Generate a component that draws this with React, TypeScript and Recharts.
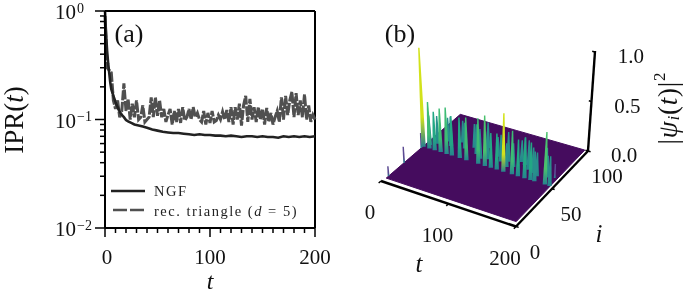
import React from "react";
import { Area, ComposedChart, Line, LineChart, ReferenceLine, Scatter, XAxis, YAxis } from "recharts";

const serif = "'Liberation Serif', serif";

// panel (a): IPR(t)
const ngfTimes = [0, 1, 2, 3, 4, 5, 6, 8, 10, 12, 14, 16, 18, 20, 22, 25, 28, 32, 36, 40, 45, 50, 55, 60, 65, 70, 75, 80, 85, 90, 95, 100, 105, 110, 115, 120, 125, 130, 135, 140, 145, 150, 155, 160, 165, 170, 175, 180, 185, 190, 195, 200];
const ngfValues = [1, 0.62, 0.43, 0.33, 0.27, 0.22, 0.19, 0.165, 0.145, 0.13, 0.118, 0.11, 0.105, 0.099, 0.096, 0.093, 0.09, 0.088, 0.086, 0.084, 0.081, 0.079, 0.077, 0.076, 0.075, 0.075, 0.074, 0.073, 0.072, 0.073, 0.072, 0.072, 0.071, 0.071, 0.07, 0.071, 0.07, 0.069, 0.07, 0.07, 0.069, 0.07, 0.069, 0.069, 0.068, 0.07, 0.069, 0.07, 0.069, 0.07, 0.069, 0.07];
const triangleValues = [
  0.9, 0.3, 0.285, 0.27, 0.15, 0.125, 0.15, 0.105, 0.12, 0.215, 0.12, 0.155, 0.1, 0.14, 0.105, 0.15, 0.1, 0.105, 0.135, 0.095,
  0.1, 0.105, 0.16, 0.105, 0.16, 0.108, 0.15, 0.105, 0.125, 0.095, 0.11, 0.125, 0.09, 0.12, 0.095, 0.125, 0.093, 0.13, 0.098, 0.105,
  0.125, 0.1, 0.13, 0.105, 0.115, 0.1, 0.095, 0.12, 0.09, 0.115, 0.093, 0.12, 0.095, 0.098, 0.11, 0.1, 0.118, 0.1, 0.122, 0.095,
  0.13, 0.09, 0.13, 0.1, 0.14, 0.088, 0.135, 0.165, 0.095, 0.155, 0.1, 0.13, 0.095, 0.13, 0.1, 0.125, 0.09, 0.128, 0.095, 0.115,
  0.09, 0.105, 0.12, 0.095, 0.16, 0.1, 0.165, 0.11, 0.15, 0.18, 0.105, 0.175, 0.11, 0.15, 0.105, 0.17, 0.1, 0.135, 0.095, 0.11, 0.1,
];
const ngfRows = ngfTimes.map((t, n) => ({ t, value: ngfValues[n] }));
const triangleRows = triangleValues.map((value, n) => ({ t: n * 2, value }));

const xTicks = [0, 10, 20, 30, 40, 50, 60, 70, 80, 90, 100, 110, 120, 130, 140, 150, 160, 170, 180, 190, 200];
const yTicks = [0.01, 0.02, 0.03, 0.04, 0.05, 0.06, 0.07, 0.08, 0.09, 0.1, 0.2, 0.3, 0.4, 0.5, 0.6, 0.7, 0.8, 0.9, 1];
const decadeLabels: Record<string, string> = { "1": "0", "0.1": "−1", "0.01": "−2" };

// panel (b): spikes of |psi_i(t)|^2
const frontT = [3, 12, 20, 29, 38, 46, 58, 68, 86, 96, 105, 114, 124, 137, 146, 156, 165, 171, 187, 194];
const frontZ = [1, 0.47, 0.39, 0.44, 0.47, 0.4, 0.41, 0.43, 0.46, 0.51, 0.35, 0.365, 0.59, 0.44, 0.37, 0.41, 0.38, 0.3, 0.53, 0.3];
const backT = [8, 15, 24, 33, 42, 52, 62, 72, 78, 82, 91, 100, 109, 118, 122, 130, 134, 141, 151, 160, 168, 176, 182, 191];
const backI = [56, 60, 66, 62, 70, 64, 68, 62, 72, 58, 60, 66, 62, 64, 58, 60, 68, 66, 62, 60, 58, 64, 60, 62];
const backZ = [0.3, 0.28, 0.24, 0.3, 0.22, 0.26, 0.24, 0.3, 0.26, 0.3, 0.28, 0.2, 0.27, 0.3, 0.24, 0.24, 0.22, 0.28, 0.3, 0.26, 0.24, 0.26, 0.22, 0.14];
const edgeI = [8, 28, 50];
const edgeZ = [0.1, 0.16, 0.15];

const tLabels = [0, 100, 200];
const iLabels = [0, 50, 100];
const zLabels = [0, 0.5, 1];

// corners of the t-i floor in page pixels (t0i0, t200i0, t200i100, t0i100)
const project = (t: number, i: number, z: number) => {
  const u = t / 200;
  const v = i / 100;
  const x0 = (1 - v) * ((1 - u) * 381 + u * 516) + v * ((1 - u) * 459 + u * 588);
  const y0 = (1 - v) * ((1 - u) * 181 + u * 226.5) + v * ((1 - u) * 114 + u * 151);
  return { px: x0 + (x0 - 490) * 0.071 * z, py: y0 - 99 * z };
};

const spikeColor = (z: number) => {
  if (z < 0.2) return "#5b4a92";
  if (z < 0.34) return "#28908c";
  if (z < 0.42) return "#22a884";
  if (z < 0.48) return "#3dbc74";
  if (z < 0.56) return "#4ac16d";
  return "#d2e21b";
};

const spike = (t: number, i: number, z: number) => {
  const top = project(t, i, z);
  const base = project(t, i, 0);
  return { ...top, dx: base.px - top.px, dy: base.py - top.py, color: spikeColor(z), halfBase: z < 0.2 ? 0.9 : 2.2, id: `s${t}-${i}` };
};

const backSpikes = backT.map((t, n) => spike(t, backI[n], backZ[n]));
const frontSpikes = frontT.map((t, n) => spike(t, 52, frontZ[n]));
const edgeSpikes = edgeI.map((i, n) => spike(2, i, edgeZ[n]));

const SpikeShape = (props: any) => {
  const { cx, cy, payload } = props;
  const { dx, dy, color, halfBase, id } = payload;
  const points = `${cx - 0.7},${cy} ${cx + 0.7},${cy} ${cx + dx + halfBase},${cy + dy} ${cx + dx - halfBase},${cy + dy}`;
  return (
    <g>
      <defs>
        <linearGradient id={id} x1="0" y1="0" x2="0" y2="1">
          <stop offset="0%" stopColor={color} />
          <stop offset="70%" stopColor={color} />
          <stop offset="100%" stopColor="#26828e" />
        </linearGradient>
      </defs>
      <polygon points={points} fill={`url(#${id})`} />
    </g>
  );
};

const NoMark = () => null;

// floor polygon as a range area, lower and upper bound at every corner
const floorA = project(2, 5, 0);
const floorB = project(195, 5, 0);
const floorC = project(195, 100, 0);
const floorD = project(2, 100, 0);
const onEdge = (p: any, q: any, x: number) => p.py + ((q.py - p.py) * (x - p.px)) / (q.px - p.px);
const upperEdge = (x: number) => (x < floorD.px ? onEdge(floorA, floorD, x) : onEdge(floorD, floorC, x));
const lowerEdge = (x: number) => (x < floorB.px ? onEdge(floorA, floorB, x) : onEdge(floorB, floorC, x));
const floorRows = [floorA, floorD, floorB, floorC].map(({ px }) => ({ px, range: [upperEdge(px), lowerEdge(px)] }));

const tAxisLine = [project(0, 0, 0), project(200, 0, 0)];
const iAxisLine = [project(200, 0, 0), project(200, 100, 0)];
const zAxisLine = [project(200, 100, 0), project(200, 100, 1.01)];

const tickSegments = [
  ...tLabels.map((t) => [project(t, 0, 0), project(t, -3, 0)]),
  ...iLabels.map((i) => [project(200, i, 0), project(204, i, 0)]),
  ...zLabels.map((z) => [project(200, 100, z), project(196, 100, z)]),
];

const XTick = (props: any) => {
  const { x, y, payload } = props;
  const major = payload.value % 100 === 0;
  return (
    <g>
      <line x1={x} x2={x} y1={y} y2={y + (major ? 9 : 5)} stroke="#000" strokeWidth={1.5} />
      {major && (
        <text x={x + (payload.value === 0 ? 2 : 0)} y={y + 29} textAnchor="middle" dominantBaseline="central" fontSize={21} fontFamily={serif} fill="#111">
          {payload.value}
        </text>
      )}
    </g>
  );
};

const YTick = (props: any) => {
  const { x, y, payload } = props;
  const exponent = decadeLabels[String(payload.value)];
  const endX = payload.value === 1 ? x - 21 : x - 13;
  return (
    <g>
      <line x1={x - (exponent ? 10 : 5)} x2={x} y1={y} y2={y} stroke="#000" strokeWidth={1.5} />
      {exponent && (
        <text x={endX} y={y + 8} textAnchor="end" fontSize={21} fontFamily={serif} fill="#111">
          10
          <tspan dy={-6.5} fontSize={14} dx={1}>{exponent}</tspan>
        </text>
      )}
    </g>
  );
};

const Label3D = ({ x, y, children }: any) => (
  <text x={x} y={y} textAnchor="middle" dominantBaseline="central" fontSize={21} fontFamily={serif} fill="#111">
    {children}
  </text>
);

export default function App() {
  return (
    <div style={{ position: "absolute", left: 0, top: 0, width: 685, height: 295, background: "#fff", overflow: "hidden", filter: "blur(0.4px)" }}>
      <div style={{ position: "absolute", left: 0, top: 0 }}>
        <LineChart width={340} height={295} margin={{ top: 11, right: 25, bottom: 0, left: 0 }}>
          <XAxis
            dataKey="t"
            type="number"
            domain={[0, 200]}
            ticks={xTicks}
            interval={0}
            height={67}
            tickLine={false}
            tickSize={0}
            tickMargin={0}
            tick={<XTick />}
            axisLine={{ stroke: "#000", strokeWidth: 2 }}
          />
          <YAxis
            dataKey="value"
            type="number"
            scale="log"
            domain={[0.01, 1]}
            ticks={yTicks}
            interval={0}
            width={105}
            allowDataOverflow
            tickLine={false}
            tickSize={0}
            tickMargin={0}
            tick={<YTick />}
            axisLine={{ stroke: "#000", strokeWidth: 2 }}
          />
          <ReferenceLine y={1} stroke="#000" strokeWidth={2} />
          <ReferenceLine x={200} stroke="#000" strokeWidth={2} />
          <Line data={triangleRows} dataKey="value" type="linear" stroke="#505050" strokeWidth={3} strokeDasharray="10 1.5" dot={false} isAnimationActive={false} />
          <Line data={ngfRows} dataKey="value" type="linear" stroke="#222" strokeWidth={2.6} dot={false} isAnimationActive={false} />

          <text x={129} y={33} textAnchor="middle" dominantBaseline="central" fontSize={26} fontFamily={serif} fill="#111">(a)</text>
          <text x={210} y={281} textAnchor="middle" dominantBaseline="central" fontSize={24} fontStyle="italic" fontFamily={serif} fill="#111">t</text>
          <text transform="translate(14,120) rotate(-90)" textAnchor="middle" dominantBaseline="central" fontSize={27} fontFamily={serif} fill="#111">
            IPR(<tspan fontStyle="italic">t</tspan>)
          </text>

          <line x1={111} x2={145} y1={191} y2={191} stroke="#222" strokeWidth={2.6} />
          <line x1={113} x2={144} y1={210} y2={210} stroke="#505050" strokeWidth={2.6} strokeDasharray="14 3" />
          <text x={154} y={191} dominantBaseline="central" fontSize={14.5} letterSpacing={1.5} fontFamily={serif} fill="#222">NGF</text>
          <text x={154} y={211} dominantBaseline="central" fontSize={14.5} letterSpacing={1.5} fontFamily={serif} fill="#222">
            rec. triangle (<tspan fontStyle="italic">d</tspan> = 5)
          </text>
        </LineChart>
      </div>

      <div style={{ position: "absolute", left: 340, top: 0 }}>
        <ComposedChart width={345} height={295} margin={{ top: 0, right: 0, bottom: 0, left: 0 }}>
          <XAxis dataKey="px" type="number" domain={[340, 685]} hide />
          <YAxis dataKey="py" type="number" domain={[0, 295]} reversed hide />
          <Area data={floorRows} dataKey="range" type="linear" fill="#450c5e" fillOpacity={1} stroke="#450c5e" dot={false} activeDot={false} isAnimationActive={false} />
          <Scatter data={edgeSpikes} shape={SpikeShape} isAnimationActive={false} />
          <Scatter data={backSpikes} shape={SpikeShape} isAnimationActive={false} />
          <Scatter data={frontSpikes} shape={SpikeShape} isAnimationActive={false} />
          <Scatter data={tAxisLine} line={{ stroke: "#000", strokeWidth: 2.4 }} shape={NoMark} isAnimationActive={false} />
          <Scatter data={iAxisLine} line={{ stroke: "#000", strokeWidth: 2.4 }} shape={NoMark} isAnimationActive={false} />
          <Scatter data={zAxisLine} line={{ stroke: "#000", strokeWidth: 2.4 }} shape={NoMark} isAnimationActive={false} />
          {tickSegments.map((segment, n) => (
            <Scatter key={n} data={segment} line={{ stroke: "#000", strokeWidth: 1.5 }} shape={NoMark} isAnimationActive={false} />
          ))}

          {tLabels.map((t) => {
            const p = project(t, 0, 0);
            return <Label3D key={t} x={p.px - 340 - 11} y={p.py + 31}>{t}</Label3D>;
          })}
          {iLabels.map((i) => {
            const p = project(200, i, 0);
            return <Label3D key={i} x={p.px - 340 + 19} y={p.py + 25}>{i}</Label3D>;
          })}
          {zLabels.map((z) => {
            const p = project(200, 100, z);
            return <Label3D key={z} x={p.px - 340 + 36} y={p.py + 4}>{z.toFixed(1)}</Label3D>;
          })}

          <text x={60} y={33} textAnchor="middle" dominantBaseline="central" fontSize={26} fontFamily={serif} fill="#111">(b)</text>
          <text x={79} y={263} textAnchor="middle" dominantBaseline="central" fontSize={25} fontStyle="italic" fontFamily={serif} fill="#111">t</text>
          <text x={259} y={233} textAnchor="middle" dominantBaseline="central" fontSize={25} fontStyle="italic" fontFamily={serif} fill="#111">i</text>
          <text transform="translate(328,108) rotate(-90)" textAnchor="middle" dominantBaseline="central" fontSize={27} letterSpacing={0.8} fontFamily={serif} fill="#111">
            |<tspan fontStyle="italic">ψ</tspan><tspan fontStyle="italic" fontSize={17} dy={5}>i</tspan><tspan dy={-5}>(</tspan><tspan fontStyle="italic">t</tspan>)|<tspan fontSize={17} dy={-9}>2</tspan>
          </text>
        </ComposedChart>
      </div>
    </div>
  );
}
